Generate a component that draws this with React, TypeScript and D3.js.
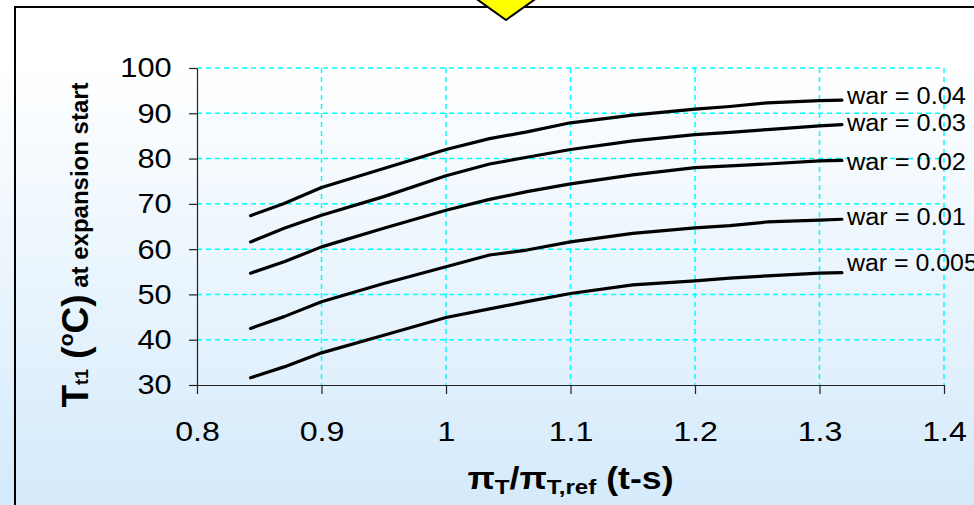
import React, { useEffect, useRef } from 'react';
import * as d3 from 'd3';

// x positions the curves were sampled at (pi_T / pi_T,ref)
const xValues = [0.843, 0.87, 0.9, 0.95, 1.0, 1.035, 1.065, 1.1, 1.15, 1.2, 1.228, 1.258, 1.3, 1.318];

const seriesNames = ['war = 0.04', 'war = 0.03', 'war = 0.02', 'war = 0.01', 'war = 0.005'];
const war004 = [67.4, 70.1, 73.6, 77.8, 82.0, 84.4, 85.9, 87.9, 89.6, 90.9, 91.5, 92.3, 92.8, 92.9];
const war003 = [61.6, 64.6, 67.5, 71.6, 76.2, 78.8, 80.3, 82.0, 83.9, 85.3, 85.8, 86.4, 87.2, 87.5];
const war002 = [54.7, 57.2, 60.5, 64.6, 68.6, 71.0, 72.7, 74.4, 76.4, 78.0, 78.4, 78.8, 79.5, 79.6];
const war001 = [42.5, 45.1, 48.4, 52.4, 56.1, 58.7, 59.8, 61.6, 63.5, 64.7, 65.2, 66.0, 66.4, 66.6];
const war0005 = [31.6, 34.0, 37.1, 41.0, 44.9, 46.8, 48.4, 50.2, 52.1, 53.0, 53.6, 54.1, 54.7, 54.8];
// where each label sits (in temperature units)
const labelValues = [93.8, 87.9, 79.3, 67.0, 57.0];

const xTicks = [0.8, 0.9, 1.0, 1.1, 1.2, 1.3, 1.4];
const xTickLabels = ['0.8', '0.9', '1', '1.1', '1.2', '1.3', '1.4'];
const yTicks = [30, 40, 50, 60, 70, 80, 90, 100];

const FONT = '"Liberation Sans", Arial, sans-serif';

export default function App() {
  const xAxisRef = useRef<SVGGElement>(null);
  const yAxisRef = useRef<SVGGElement>(null);

  const width = 974;
  const height = 505;
  const left = 197;
  const right = 944;
  const top = 68;
  const bottom = 385;

  const x = d3.scaleLinear().domain([0.8, 1.4]).range([left, right]);
  const y = d3.scaleLinear().domain([30, 100]).range([bottom, top]);

  const series = [war004, war003, war002, war001, war0005];
  const line = d3
    .line<number>()
    .x((d, i) => x(xValues[i]))
    .y((d) => y(d));

  useEffect(() => {
    const gx = d3.select(xAxisRef.current);
    gx.selectAll('*').remove();
    gx.call(
      d3
        .axisBottom(x)
        .tickValues(xTicks)
        .tickFormat((d, i) => xTickLabels[i])
        .tickSizeInner(9)
        .tickSizeOuter(0)
        .tickPadding(27)
    );
    // the original text is a little wider than plain Arial
    gx.selectAll('text')
      .attr('font-size', 28)
      .attr('font-family', FONT)
      .attr('fill', '#000')
      .attr('transform', 'scale(1.15,1)');
    gx.selectAll('line, path').attr('stroke', '#222').attr('stroke-width', 1.2);

    const gy = d3.select(yAxisRef.current);
    gy.selectAll('*').remove();
    gy.call(d3.axisLeft(y).tickValues(yTicks).tickSizeInner(8).tickSizeOuter(0).tickPadding(15));
    gy.selectAll('text')
      .attr('font-size', 28)
      .attr('font-family', FONT)
      .attr('fill', '#000')
      .attr('transform', 'scale(1.1,1)');
    gy.selectAll('line, path').attr('stroke', '#222').attr('stroke-width', 1.2);
  }, []);

  return (
    <svg
      width={width}
      height={height}
      style={{ position: 'absolute', left: 0, top: 0, display: 'block' }}
    >
      <defs>
        <linearGradient id="bg" x1="0" y1="0" x2="0" y2="1">
          <stop offset="0" stopColor="#ffffff" />
          <stop offset="0.12" stopColor="#ffffff" />
          <stop offset="1" stopColor="#d4eafb" />
        </linearGradient>
      </defs>
      <rect x={0} y={0} width={width} height={height} fill="url(#bg)" />
      {/* chart frame runs off the right and bottom */}
      <rect x={15} y={7} width={1000} height={540} fill="none" stroke="#000" strokeWidth={2} />

      {/* grid */}
      <g stroke="#00ffff" strokeWidth={1.5} strokeDasharray="5,4">
        {xTicks.slice(1).map((t) => (
          <line key={'gx' + t} x1={x(t)} x2={x(t)} y1={top} y2={bottom} />
        ))}
        {yTicks.slice(1).map((t) => (
          <line key={'gy' + t} x1={left} x2={right} y1={y(t)} y2={y(t)} />
        ))}
      </g>

      <g ref={xAxisRef} transform={`translate(0,${bottom})`} />
      <g ref={yAxisRef} transform={`translate(${left},0)`} />

      {series.map((s, i) => (
        <path
          key={seriesNames[i]}
          d={line(s) || ''}
          fill="none"
          stroke="#000"
          strokeWidth={3.2}
          strokeLinejoin="round"
          strokeLinecap="round"
        />
      ))}
      {seriesNames.map((n, i) => (
        <text
          key={'lbl' + n}
          x={x(xValues[xValues.length - 1]) + 5}
          y={y(labelValues[i])}
          dy="0.35em"
          fontSize={23}
          fontFamily={FONT}
          fill="#000"
          textLength={n.length * 11.9}
          lengthAdjust="spacingAndGlyphs"
        >
          {n}
        </text>
      ))}

      {/* axis titles */}
      <g transform={`translate(${(left + right) / 2},489) scale(1.15,1)`}>
        <text textAnchor="middle" fontFamily={FONT} fontWeight="bold" fontSize={31} fill="#000">
          <tspan>π</tspan>
          <tspan fontSize={21} dy={5}>T</tspan>
          <tspan dy={-5}>/π</tspan>
          <tspan fontSize={21} dy={5}>T,ref</tspan>
          <tspan dy={-5}> (t-s)</tspan>
        </text>
      </g>
      <text
        transform="translate(88,245) rotate(-90)"
        textAnchor="middle"
        fontFamily={FONT}
        fontWeight="bold"
        fontSize={37}
        fill="#000"
      >
        <tspan>T</tspan>
        <tspan fontSize={18}>t1</tspan>
        <tspan> (</tspan>
        <tspan fontSize={21} dy={-15}>o</tspan>
        <tspan dy={15}>C)</tspan>
        <tspan fontSize={24}> at expansion start</tspan>
      </text>

      {/* yellow marker at the top */}
      <polygon points="464,-10 548,-10 506,20" fill="#ffff00" stroke="#000" strokeWidth={2} />
    </svg>
  );
}
